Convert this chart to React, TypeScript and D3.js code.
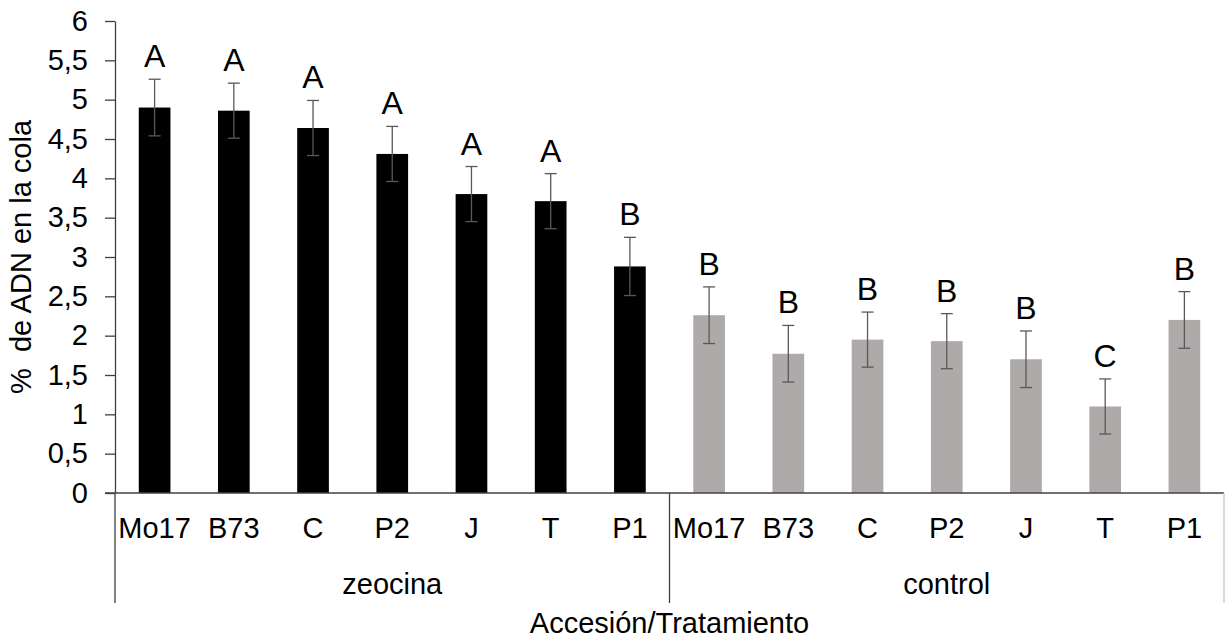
import { useEffect, useRef } from 'react';
import * as d3 from 'd3';

// accessions / treatments
const accessions = ['Mo17', 'B73', 'C', 'P2', 'J', 'T', 'P1'];
const treatments = ['zeocina', 'control'];

// % DNA in tail (mean) and error
const zeocinaValues = [4.9, 4.86, 4.64, 4.31, 3.8, 3.71, 2.88];
const zeocinaErrors = [0.36, 0.35, 0.35, 0.35, 0.35, 0.35, 0.37];
const controlValues = [2.26, 1.77, 1.95, 1.93, 1.7, 1.1, 2.2];
const controlErrors = [0.36, 0.36, 0.35, 0.35, 0.36, 0.35, 0.36];

// significance letters
const zeocinaLetters = ['A', 'A', 'A', 'A', 'A', 'A', 'B'];
const controlLetters = ['B', 'B', 'B', 'B', 'B', 'C', 'B'];

const yTicks = [0, 0.5, 1, 1.5, 2, 2.5, 3, 3.5, 4, 4.5, 5, 5.5, 6];

const FONT = '"Liberation Sans", Arial, sans-serif';

function CometChart() {
  const svgRef = useRef<SVGSVGElement>(null);

  useEffect(() => {
    const W = 1225;
    const H = 640;
    const left = 115;
    const right = 1224;
    const top = 21;
    const bottom = 493;

    const rows = [
      ...accessions.map((a, i) => ({
        key: `zeocina-${a}`, label: a, group: treatments[0],
        value: zeocinaValues[i], err: zeocinaErrors[i], letter: zeocinaLetters[i],
      })),
      ...accessions.map((a, i) => ({
        key: `control-${a}`, label: a, group: treatments[1],
        value: controlValues[i], err: controlErrors[i], letter: controlLetters[i],
      })),
    ];

    const svg = d3.select(svgRef.current).attr('width', W).attr('height', H);
    svg.selectAll('*').remove();

    const x = d3
      .scaleBand()
      .domain(rows.map((d) => d.key))
      .range([left, right])
      .paddingInner(0.6)
      .paddingOuter(0.3);

    const y = d3.scaleLinear().domain([0, 6]).range([bottom, top]);

    const color = d3.scaleOrdinal<string>().domain(treatments).range(['#000000', '#aeaaaa']);

    const axisColor = '#404040';
    const fmt = (v: number) => String(v).replace('.', ',');

    // Y axis
    const yAxis = svg
      .append('g')
      .attr('transform', `translate(${left},0)`)
      .call(d3.axisLeft(y).tickValues(yTicks).tickSize(10).tickSizeOuter(0).tickPadding(17).tickFormat((d) => fmt(+d)));
    yAxis.select('.domain').attr('stroke', axisColor).attr('stroke-width', 1.3);
    yAxis.selectAll('.tick line').attr('stroke', axisColor).attr('stroke-width', 1.3);
    yAxis
      .selectAll('.tick text')
      .attr('fill', '#000')
      .style('font-family', FONT)
      .style('font-size', '29px');

    // y title
    svg
      .append('text')
      .attr('transform', `translate(31,${(top + bottom) / 2}) rotate(-90)`)
      .attr('text-anchor', 'middle')
      .style('font-family', FONT)
      .style('font-size', '29px')
      .attr('fill', '#000')
      .attr('xml:space', 'preserve')
      .text('%  de ADN en la cola');

    // bars
    svg
      .append('g')
      .selectAll('rect')
      .data(rows)
      .enter()
      .append('rect')
      .attr('x', (d) => x(d.key)!)
      .attr('y', (d) => y(d.value))
      .attr('width', x.bandwidth())
      .attr('height', (d) => bottom - y(d.value))
      .attr('fill', (d) => color(d.group));

    // error bars
    const eb = svg
      .append('g')
      .attr('stroke', '#595959')
      .attr('stroke-width', 1.3)
      .selectAll('g')
      .data(rows)
      .enter()
      .append('g')
      .attr('transform', (d) => `translate(${x(d.key)! + x.bandwidth() / 2},0)`);
    eb.append('line')
      .attr('y1', (d) => y(d.value - d.err))
      .attr('y2', (d) => y(d.value + d.err));
    [1, -1].forEach((s) => {
      eb.append('line')
        .attr('x1', -6)
        .attr('x2', 6)
        .attr('y1', (d) => y(d.value + s * d.err))
        .attr('y2', (d) => y(d.value + s * d.err));
    });

    // letters
    svg
      .append('g')
      .selectAll('text')
      .data(rows)
      .enter()
      .append('text')
      .attr('x', (d) => x(d.key)! + x.bandwidth() / 2)
      .attr('y', (d) => y(d.value + d.err) - 12)
      .attr('text-anchor', 'middle')
      .style('font-family', FONT)
      .style('font-size', '32px')
      .attr('fill', '#000')
      .text((d) => d.letter);

    // x axis line
    svg
      .append('line')
      .attr('x1', left - 10)
      .attr('x2', right)
      .attr('y1', bottom)
      .attr('y2', bottom)
      .attr('stroke', axisColor)
      .attr('stroke-width', 1.3);

    // category labels
    svg
      .append('g')
      .selectAll('text')
      .data(rows)
      .enter()
      .append('text')
      .attr('x', (d) => x(d.key)! + x.bandwidth() / 2)
      .attr('y', 538)
      .attr('text-anchor', 'middle')
      .style('font-family', FONT)
      .style('font-size', '29px')
      .attr('fill', '#000')
      .text((d) => d.label);

    // group separators and group labels
    const sep = x(`zeocina-${accessions[accessions.length - 1]}`)! + x.bandwidth() + (x.step() - x.bandwidth()) / 2;
    const groupEdges = [left, sep, right];
    groupEdges.forEach((gx, i) => {
      svg
        .append('line')
        .attr('x1', gx)
        .attr('x2', gx)
        .attr('y1', bottom)
        .attr('y2', 603)
        .attr('stroke', i === 2 ? '#c8c8c8' : axisColor)
        .attr('stroke-width', 1.3);
    });
    treatments.forEach((t, i) => {
      svg
        .append('text')
        .attr('x', (groupEdges[i] + groupEdges[i + 1]) / 2)
        .attr('y', 594)
        .attr('text-anchor', 'middle')
        .style('font-family', FONT)
        .style('font-size', '29px')
        .attr('fill', '#000')
        .text(t);
    });

    // x title
    svg
      .append('text')
      .attr('x', (left + right) / 2)
      .attr('y', 633)
      .attr('text-anchor', 'middle')
      .style('font-family', FONT)
      .style('font-size', '29px')
      .attr('fill', '#000')
      .text('Accesión/Tratamiento');
  }, []);

  return <svg ref={svgRef} style={{ position: 'absolute', left: 0, top: 0, background: '#fff' }}></svg>;
}

export default function App() {
  return <CometChart />;
}
